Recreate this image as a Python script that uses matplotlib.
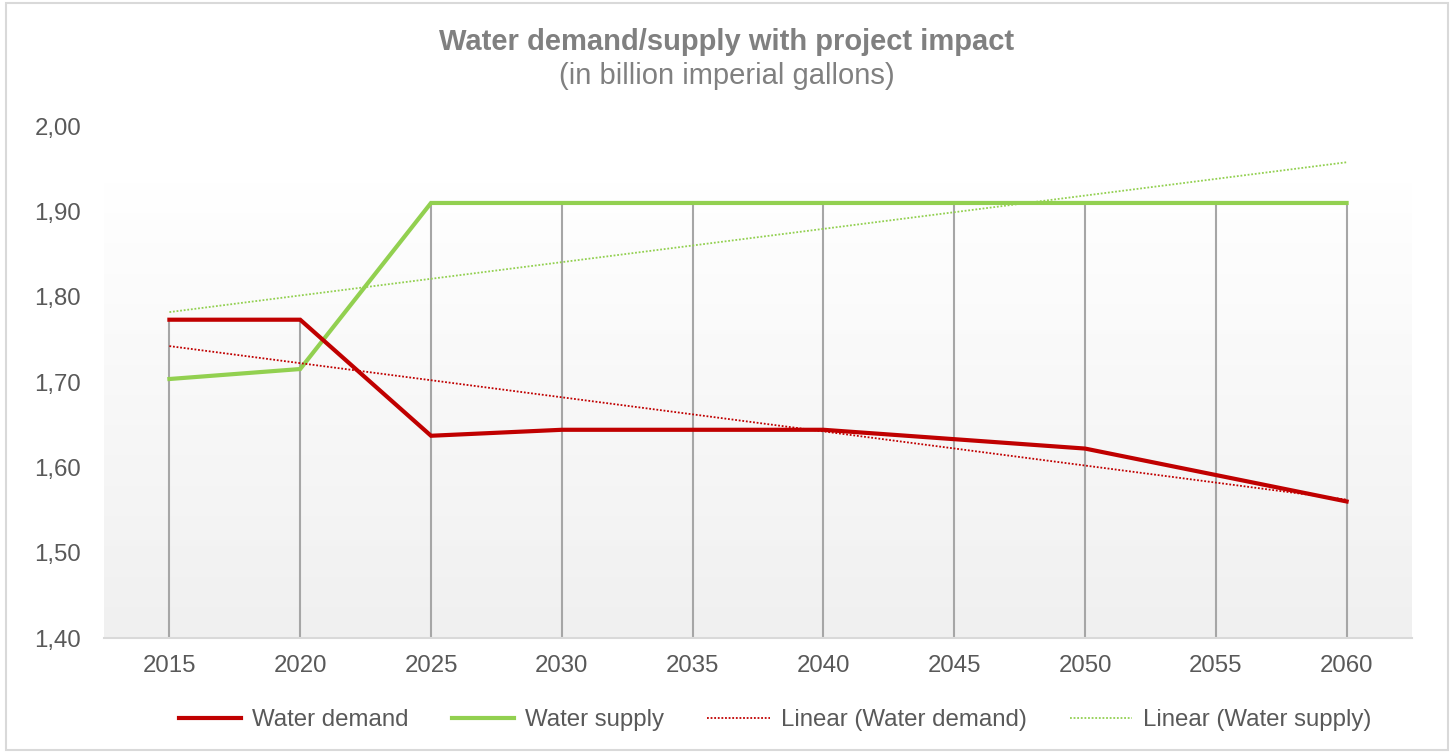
import numpy as np
import matplotlib
matplotlib.use("Agg")
import matplotlib.pyplot as plt
from matplotlib.lines import Line2D
from matplotlib.patches import Rectangle
from matplotlib.colors import LinearSegmentedColormap

years = ["2015", "2020", "2025", "2030", "2035", "2040", "2045", "2050", "2055", "2060"]
water_demand = [1.773, 1.773, 1.637, 1.644, 1.644, 1.644, 1.633, 1.622, 1.591, 1.560]
water_supply = [1.7035, 1.7152, 1.9098, 1.9098, 1.9098, 1.9098, 1.9098, 1.9098, 1.9098, 1.9098]
y_ticks = [1.40, 1.50, 1.60, 1.70, 1.80, 1.90, 2.00]

RED = "#c00000"
GREEN = "#92d050"
TXT = "#595959"

plt.rcParams['font.family'] = ['Liberation Sans', 'DejaVu Sans']

fig = plt.figure(figsize=(14.54, 7.53), dpi=100)
ax = fig.add_axes([104/1454, 1-638/753, (1412-104)/1454, 512/753])

x = np.arange(len(years))

# gradient background of plot area
grad = np.linspace(0, 1, 256).reshape(-1, 1)
cmap = LinearSegmentedColormap.from_list("g", ["#f0f0f0", "#ffffff"])
ax.imshow(grad, cmap=cmap, origin="lower", aspect="auto",
          extent=[0, 1, 0, (638-182)/512], transform=ax.transAxes, zorder=0)

# drop lines
tops = np.maximum(water_demand, water_supply)
ax.vlines(x, y_ticks[0], tops, color="#a6a6a6", lw=1.5, zorder=2)

ax.plot(x, water_demand, color=RED, lw=3.0, zorder=4, solid_joinstyle="miter")
ax.plot(x, water_supply, color=GREEN, lw=3.0, zorder=3, solid_joinstyle="miter")

# linear trendlines
cd = np.polyfit(x, water_demand, 1)
cs = np.polyfit(x, water_supply, 1)
ax.plot(x, np.polyval(cd, x), color=RED, lw=1.3, ls=(0, (1, 1)), zorder=5)
ax.plot(x, np.polyval(cs, x), color=GREEN, lw=1.3, ls=(0, (1, 1)), zorder=5)

ax.set_xlim(-0.5, len(years) - 0.5)
ax.set_ylim(y_ticks[0], y_ticks[-1])
ax.set_xticks(x)
ax.set_xticklabels(years)
ax.set_yticks(y_ticks)
ax.set_yticklabels([f"{v:.2f}".replace(".", ",") for v in y_ticks])
ax.tick_params(axis="both", length=0, labelsize=17.3, colors=TXT)
ax.tick_params(axis="x", pad=12)
ax.tick_params(axis="y", pad=16.5)
for s in ["top", "right", "left"]:
    ax.spines[s].set_visible(False)
ax.spines["bottom"].set_color("#d9d9d9")
ax.spines["bottom"].set_linewidth(1.5)
ax.spines["bottom"].set_zorder(6)
ax.patch.set_visible(False)

fig.text(0.5, 1-42/753, "Water demand/supply with project impact", ha="center", va="center",
         fontsize=21, fontweight="bold", color="#808080")
fig.text(0.5, 1-76/753, "(in billion imperial gallons)", ha="center", va="center",
         fontsize=21, color="#808080")

handles = [Line2D([], [], color=RED, lw=3.0),
           Line2D([], [], color=GREEN, lw=3.0),
           Line2D([], [], color=RED, lw=1.3, ls=(0, (1, 1))),
           Line2D([], [], color=GREEN, lw=1.3, ls=(0, (1, 1)))]
labels = ["Water demand", "Water supply", "Linear (Water demand)", "Linear (Water supply)"]
leg = fig.legend(handles, labels, loc="center", bbox_to_anchor=(775/1454, 1-720/753), ncol=4,
                 frameon=False, fontsize=17.3, handlelength=2.6, handletextpad=0.45,
                 columnspacing=1.8)
for t in leg.get_texts():
    t.set_color(TXT)

fig.patches.append(Rectangle((6/1454, 3/753), 1442/1454, 747/753, transform=fig.transFigure,
                             fill=False, edgecolor="#d9d9d9", lw=1.5))

fig.savefig("out.png", dpi=100)
